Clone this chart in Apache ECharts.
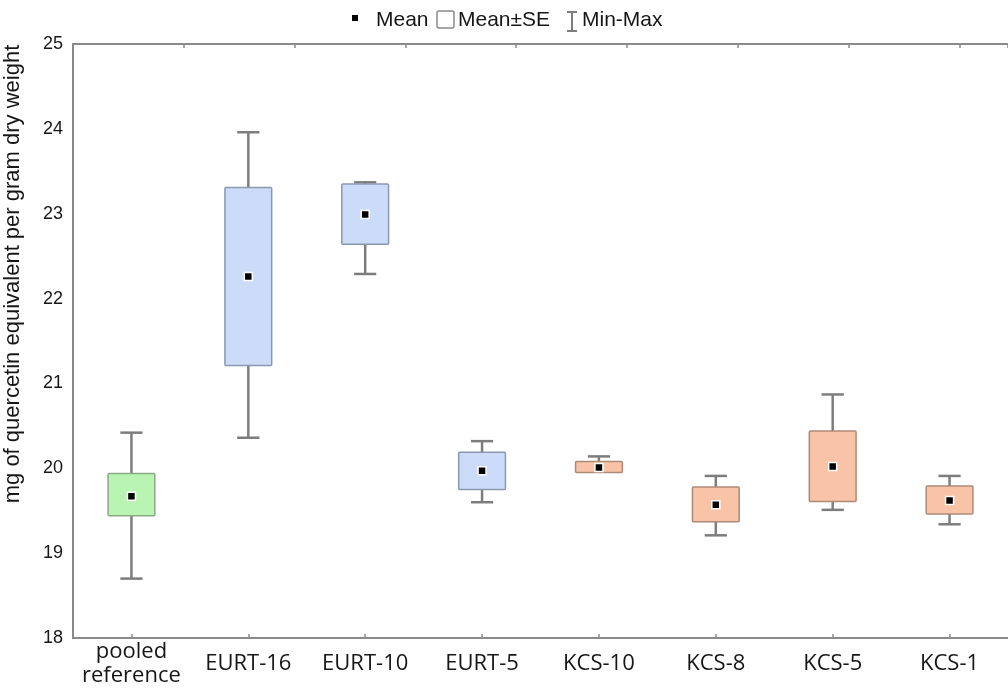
<!DOCTYPE html>
<html>
<head>
<meta charset="utf-8">
<title>Quercetin equivalent by sample</title>
<script src="https://cdn.jsdelivr.net/npm/echarts@6/dist/echarts.min.js"></script>
<style>
  html, body { margin: 0; padding: 0; background: #ffffff; }
  #chart { width: 1008px; height: 692px; }
</style>
</head>
<body>
<div id="chart"></div>
<script>
// Sample categories and group membership (controls the box colour)
const categories = ['pooled\nreference', 'EURT-16', 'EURT-10', 'EURT-5', 'KCS-10', 'KCS-8', 'KCS-5', 'KCS-1'];
const groups = ['reference', 'EURT', 'EURT', 'EURT', 'KCS', 'KCS', 'KCS', 'KCS'];

// mg quercetin equivalent per gram dry weight
const meanValues = [19.67, 22.26, 22.99, 19.97, 20.01, 19.57, 20.02, 19.62];
const seLow      = [19.44, 21.21, 22.64, 19.75, 19.95, 19.37, 19.61, 19.46];
const seHigh     = [19.94, 23.31, 23.35, 20.19, 20.08, 19.78, 20.44, 19.79];
const minValues  = [18.70, 20.36, 22.29, 19.60, 19.96, 19.21, 19.51, 19.34];
const maxValues  = [20.42, 23.96, 23.37, 20.32, 20.14, 19.91, 20.87, 19.91];

// y axis range
const yMin = 18, yMax = 25, yStep = 1;

const groupFill   = { reference: '#baf4b3', EURT: '#ccdcf8', KCS: '#f8c3a6' };
const groupBorder = { reference: '#8aa985', EURT: '#8a97b1', KCS: '#ad8a78' };
const axisGrey = '#8a8a8a';
const textColor = '#161616';

const whiskerData = categories.map((c, i) => [i, minValues[i], maxValues[i]]);
const boxData = categories.map((c, i) => [i, seLow[i], seHigh[i]]);

const chart = echarts.init(document.getElementById('chart'), null, { renderer: 'canvas' });

chart.setOption({
  animation: false,
  backgroundColor: '#ffffff',
  grid: { left: 73, top: 44, width: 939, height: 594, containLabel: false },
  xAxis: [
    {
      type: 'category',
      data: categories,
      position: 'bottom',
      boundaryGap: true,
      axisLine: { lineStyle: { color: axisGrey, width: 2 } },
      axisTick: { show: true, alignWithLabel: true, inside: true, length: 4, lineStyle: { color: axisGrey, width: 1.5 } },
      axisLabel: {
        color: textColor,
        fontFamily: '"Open Sans", sans-serif',
        fontSize: 22,
        lineHeight: 24,
        margin: 26,
        verticalAlign: 'middle',
        interval: 0
      },
      splitLine: { show: false }
    },
    {
      type: 'value',
      position: 'top',
      min: 0,
      max: 8.44,
      interval: 1,
      axisLine: { show: true, lineStyle: { color: axisGrey, width: 2 } },
      axisTick: { show: true, inside: true, length: 4, lineStyle: { color: axisGrey, width: 1.5 } },
      axisLabel: { show: false },
      splitLine: { show: false }
    }
  ],
  yAxis: {
    type: 'value',
    min: yMin,
    max: yMax,
    interval: yStep,
    axisLine: { show: true, lineStyle: { color: axisGrey, width: 2 } },
    axisTick: { show: false },
    axisLabel: { color: textColor, fontFamily: '"Liberation Sans", Arial, sans-serif', fontSize: 18, margin: 10 },
    splitLine: { show: false }
  },
  series: [
    {
      name: 'Min-Max',
      type: 'custom',
      xAxisIndex: 0,
      data: whiskerData,
      encode: { x: 0, y: [1, 2] },
      z: 2,
      renderItem: function (params, api) {
        const i = api.value(0);
        const lo = api.coord([i, api.value(1)]);
        const hi = api.coord([i, api.value(2)]);
        const band = api.size([1, 0])[0];
        const half = band * 0.095;
        const style = { stroke: '#7d7d7d', lineWidth: 2.5 };
        return {
          type: 'group',
          children: [
            { type: 'line', shape: { x1: lo[0], y1: lo[1], x2: hi[0], y2: hi[1] }, style: style },
            { type: 'line', shape: { x1: lo[0] - half, y1: lo[1], x2: lo[0] + half, y2: lo[1] }, style: style },
            { type: 'line', shape: { x1: hi[0] - half, y1: hi[1], x2: hi[0] + half, y2: hi[1] }, style: style }
          ]
        };
      }
    },
    {
      name: 'Mean±SE',
      type: 'custom',
      xAxisIndex: 0,
      data: boxData,
      encode: { x: 0, y: [1, 2] },
      z: 3,
      renderItem: function (params, api) {
        const i = api.value(0);
        const lo = api.coord([i, api.value(1)]);
        const hi = api.coord([i, api.value(2)]);
        const band = api.size([1, 0])[0];
        const w = band * 0.40;
        const g = groups[params.dataIndex];
        return {
          type: 'rect',
          shape: { x: lo[0] - w / 2, y: hi[1], width: w, height: lo[1] - hi[1], r: 1 },
          style: { fill: groupFill[g], stroke: groupBorder[g], lineWidth: 1.5 }
        };
      }
    },
    {
      name: 'Mean',
      type: 'scatter',
      xAxisIndex: 0,
      data: meanValues,
      symbol: 'rect',
      symbolSize: 8,
      z: 4,
      itemStyle: { color: '#000000', borderColor: '#ffffff', borderWidth: 1.5, opacity: 1 }
    }
  ],
  graphic: [
    {
      type: 'text',
      x: 13,
      y: 274,
      rotation: Math.PI / 2,
      style: {
        text: 'mg of quercetin equivalent per gram dry weight',
        fontFamily: '"Liberation Sans", Arial, sans-serif',
        fontSize: 22,
        fill: textColor,
        textAlign: 'center',
        textVerticalAlign: 'middle'
      }
    },
    // legend row
    { type: 'rect', shape: { x: 352, y: 15, width: 6, height: 6 }, style: { fill: '#000' } },
    {
      type: 'text', x: 376, y: 20,
      style: { text: 'Mean', fontFamily: '"Liberation Sans", Arial, sans-serif', fontSize: 21, fill: textColor, textVerticalAlign: 'middle' }
    },
    { type: 'rect', shape: { x: 437, y: 11, width: 17, height: 17, r: 2 }, style: { fill: '#fff', stroke: '#8a8a8a', lineWidth: 1.5 } },
    {
      type: 'text', x: 458, y: 20,
      style: { text: 'Mean±SE', fontFamily: '"Liberation Sans", Arial, sans-serif', fontSize: 21, fill: textColor, textVerticalAlign: 'middle' }
    },
    { type: 'line', shape: { x1: 567, y1: 12, x2: 577, y2: 12 }, style: { stroke: '#7d7d7d', lineWidth: 2 } },
    { type: 'line', shape: { x1: 572, y1: 12, x2: 572, y2: 31 }, style: { stroke: '#7d7d7d', lineWidth: 2 } },
    { type: 'line', shape: { x1: 567, y1: 31, x2: 577, y2: 31 }, style: { stroke: '#7d7d7d', lineWidth: 2 } },
    {
      type: 'text', x: 582, y: 20,
      style: { text: 'Min-Max', fontFamily: '"Liberation Sans", Arial, sans-serif', fontSize: 21, fill: textColor, textVerticalAlign: 'middle' }
    }
  ]
});
</script>
</body>
</html>
